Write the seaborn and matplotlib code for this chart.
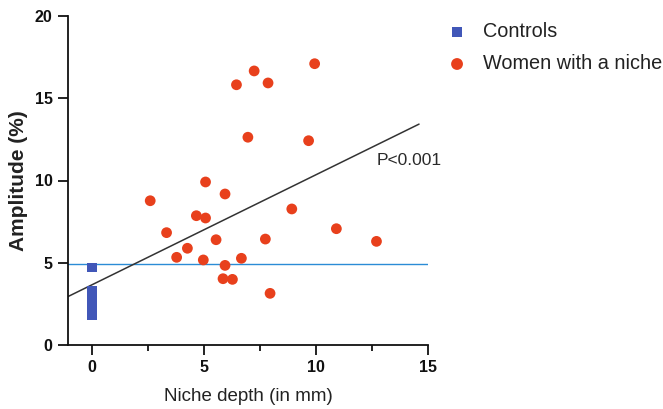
import numpy as np
import pandas as pd
import matplotlib
matplotlib.use("Agg")
import matplotlib.pyplot as plt
import seaborn as sns
from matplotlib.ticker import MultipleLocator

sns.set_style("ticks")
plt.rcParams['font.family'] = ['Liberation Sans', 'DejaVu Sans']

# Controls (niche depth 0)
control_depth = [0, 0, 0, 0, 0, 0, 0, 0, 0, 0, 0, 0]
control_amp = [1.82, 1.95, 2.1, 2.25, 2.4, 2.55, 2.7, 2.85, 3.0, 3.15, 3.3, 4.71]

# Women with a niche
niche_depth = [9.94, 7.24, 6.45, 7.86, 6.96, 9.67, 5.07, 5.94, 2.60, 4.66, 5.07,
               8.92, 10.91, 12.70, 3.33, 5.54, 7.74, 4.26, 3.78, 4.97, 6.67,
               5.94, 5.85, 6.27, 7.95]
niche_amp = [17.1, 16.66, 15.82, 15.93, 12.63, 12.42, 9.91, 9.18, 8.77, 7.86, 7.72,
             8.27, 7.07, 6.30, 6.83, 6.40, 6.44, 5.88, 5.33, 5.17, 5.27,
             4.84, 4.03, 3.99, 3.14]

# Regression line as reported in the figure
fit_intercept = 3.66
fit_slope = 0.669
fit_x_range = [-1.07, 14.6]

threshold = 4.95
p_text = "P<0.001"

df_c = pd.DataFrame({"depth": control_depth, "amp": control_amp})
df_n = pd.DataFrame({"depth": niche_depth, "amp": niche_amp})
fit_y = [fit_intercept + fit_slope * x for x in fit_x_range]
df_fit = pd.DataFrame({"depth": fit_x_range, "amp": fit_y})

fig = plt.figure(figsize=(6.63, 4.09), dpi=100)
ax = fig.add_axes([68/663, 1-345/409, (428-68)/663, (345-16)/409])

sns.lineplot(data=df_fit, x="depth", y="amp", color="#333333", lw=1.1, ax=ax,
             legend=False, zorder=2)
ax.axhline(threshold, color="#2b8cd6", lw=1.0, zorder=1)

sns.scatterplot(data=df_c, x="depth", y="amp", marker="s", s=45, color="#4157b8",
                edgecolor="none", label="Controls", ax=ax, zorder=3)
sns.scatterplot(data=df_n, x="depth", y="amp", marker="o", s=60, color="#e8401c",
                edgecolor="none", label="Women with a niche", ax=ax, zorder=3)

ax.text(12.7, 11.2, p_text, fontsize=12.5, color="#2a2a2a", va="center", ha="left")

ax.set_xlim(-1.07, 15)
ax.set_ylim(0, 20)
ax.set_xticks([0, 5, 10, 15])
ax.xaxis.set_minor_locator(MultipleLocator(2.5))
ax.set_yticks([0, 5, 10, 15, 20])
ax.tick_params(axis="both", which="major", length=7, width=1.3, labelsize=11.5,
               colors="#111111", pad=4)
ax.tick_params(axis="x", which="minor", length=4, width=1.3, colors="#111111")
for lab in ax.get_xticklabels() + ax.get_yticklabels():
    lab.set_fontweight("bold")
ax.spines["right"].set_visible(False)
ax.spines["top"].set_visible(False)
for s in ["left", "bottom"]:
    ax.spines[s].set_linewidth(1.3)
    ax.spines[s].set_color("#111111")

ax.set_xlabel("Niche depth (in mm)", fontsize=13.5, color="#222222", labelpad=9)
ax.set_ylabel("Amplitude (%)", fontsize=15, fontweight="bold", color="#222222",
              labelpad=5)

leg = ax.legend(loc="upper left", bbox_to_anchor=(1.031, 1.005), frameon=False,
                fontsize=14.3, handlelength=1.0, handletextpad=0.8,
                labelspacing=0.65, borderaxespad=0, markerscale=1.1)
for t in leg.get_texts():
    t.set_color("#222222")

fig.savefig("out.png", dpi=100)
